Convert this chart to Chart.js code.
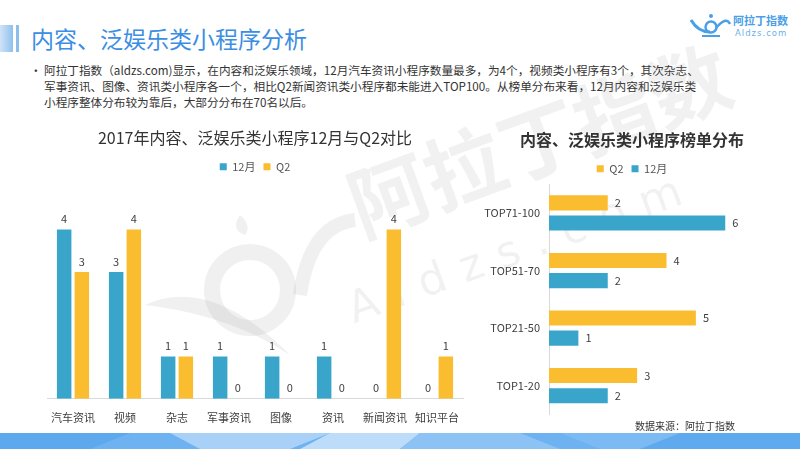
<!DOCTYPE html>
<html>
<head>
<meta charset="utf-8">
<script src="https://cdn.jsdelivr.net/npm/chart.js@4.4.1/dist/chart.umd.min.js"></script>
<style>
  html, body { margin: 0; padding: 0; background: #fff; }
  body { width: 800px; height: 449px; position: relative; overflow: hidden;
         font-family: "Noto Sans CJK SC", "Noto Sans", sans-serif; }
  .abs { position: absolute; }
  #headBar { left: 0; top: 25px; width: 13px; height: 27px;
             background: linear-gradient(90deg, #cfe3f7, #8fc1ee); }
  #headBar2 { left: 16px; top: 25px; width: 3px; height: 27px; background: #8fbde9; }
  #title { left: 31px; top: 21px; font-size: 23px; color: #3b8ee3; line-height: 34px; white-space: nowrap; }
  #desc { left: 30px; top: 62px; font-size: 11.65px; color: #333; line-height: 16px; white-space: nowrap; }
  #desc .dot { position: absolute; left: 0; top: 0; }
  #desc .txt { position: absolute; left: 14px; top: 0; }
  #source { left: 635px; top: 418px; font-size: 10px; color: #333; white-space: nowrap; }
  #logoTxt { left: 733px; top: 13px; font-size: 11px; font-weight: bold; color: #4aa0e6; white-space: nowrap; line-height: 14px; }
  #logoSub { left: 735px; top: 28px; font-size: 8.5px; color: #6ab0ea; letter-spacing: 1px; font-family: "DejaVu Sans", sans-serif; white-space: nowrap; }
  #wm1 { left: 330px; top: 150px; font-size: 80px; font-weight: bold; color: rgba(150,150,150,0.13);
         transform: rotate(-20deg); transform-origin: left top; white-space: nowrap; }
  #wm2 { left: 340px; top: 285px; font-size: 44px; color: rgba(150,150,150,0.13); letter-spacing: 16px;
         transform: rotate(-20deg); transform-origin: left top; white-space: nowrap; font-family: "DejaVu Sans", sans-serif; }
  #left { left: 0; top: 120px; }
  #right { left: 480px; top: 120px; }
</style>
</head>
<body>
<div id="headBar" class="abs"></div>
<div id="headBar2" class="abs"></div>
<div id="title" class="abs">内容、泛娱乐类小程序分析</div>
<div id="desc" class="abs">
  <span class="dot">•</span>
  <div class="txt">阿拉丁指数（aldzs.com)显示，在内容和泛娱乐领域，12月汽车资讯小程序数量最多，为4个，视频类小程序有3个，其次杂志、<br>军事资讯、图像、资讯类小程序各一个，相比Q2新闻资讯类小程序都未能进入TOP100。从榜单分布来看，12月内容和泛娱乐类<br>小程序整体分布较为靠后，大部分分布在70名以后。</div>
</div>

<svg class="abs" style="left:690px;top:12px" width="42" height="26" viewBox="0 0 42 26">
  <path d="M1 8 Q8 20 20 20" stroke="#4aa0e6" stroke-width="3" fill="none"/>
  <circle cx="21" cy="15" r="5.5" stroke="#4aa0e6" stroke-width="2.5" fill="none"/>
  <circle cx="21" cy="4" r="2" fill="#4aa0e6"/>
  <path d="M26 16 Q36 4 40 12" stroke="#4aa0e6" stroke-width="2.5" fill="none"/>
  <path d="M12 24 L30 24" stroke="#4aa0e6" stroke-width="2" fill="none"/>
</svg>
<div id="logoTxt" class="abs">阿拉丁指数</div>
<div id="logoSub" class="abs">Aldzs.com</div>

<svg class="abs" style="left:140px;top:195px" width="230" height="180" viewBox="0 0 230 180">
  <path d="M5 110 Q70 80 150 160 Q90 120 5 110 Z" fill="rgba(150,150,150,0.14)"/>
  <circle cx="110" cy="95" r="38" stroke="rgba(150,150,150,0.14)" stroke-width="16" fill="none"/>
  <path d="M100 20 Q90 35 105 40 Q112 30 100 20 Z" fill="rgba(150,150,150,0.14)"/>
  <path d="M160 100 Q170 30 215 25" stroke="rgba(150,150,150,0.14)" stroke-width="14" fill="none"/>
</svg>
<div id="wm1" class="abs">阿拉丁指数</div>
<div id="wm2" class="abs">Aldzs.com</div>

<canvas id="left" class="abs" width="490" height="316"></canvas>
<canvas id="right" class="abs" width="310" height="310"></canvas>

<div id="source" class="abs">数据来源：阿拉丁指数</div>

<svg class="abs" style="left:0;top:433px" width="800" height="16" viewBox="0 0 800 16" preserveAspectRatio="none">
  <rect x="0" y="0" width="800" height="16" fill="#6fb2f1"/>
  <polygon points="0,0 130,0 90,16 0,16" fill="#5ea8ee"/>
  <polygon points="170,0 330,0 290,16 200,16" fill="#a9d1f8"/>
  <polygon points="330,0 420,0 400,16 300,16" fill="#bcdcfa"/>
  <polygon points="420,0 520,0 560,16 400,16" fill="#8cc3f4"/>
  <polygon points="560,0 680,0 660,16 600,16" fill="#7bbaf3"/>
  <polygon points="680,0 800,0 800,16 640,16" fill="#5fa9ee"/>
</svg>

<script>
const barCategories = ['汽车资讯', '视频', '杂志', '军事资讯', '图像', '资讯', '新闻资讯', '知识平台'];
const decValues = [4, 3, 1, 1, 1, 1, 0, 0];
const q2Values = [3, 4, 1, 0, 0, 0, 4, 1];

const rankCategories = ['TOP71-100', 'TOP51-70', 'TOP21-50', 'TOP1-20'];
const rankQ2 = [2, 4, 5, 3];
const rankDec = [6, 2, 1, 2];

const BLUE = '#3aa5cb';
const YELLOW = '#fbbd30';
const FONT = '"Noto Sans CJK SC", "Noto Sans", sans-serif';

// draws the value next to each bar
const valueLabels = {
  id: 'valueLabels',
  afterDatasetsDraw(chart) {
    const ctx = chart.ctx;
    const horizontal = chart.options.indexAxis === 'y';
    ctx.save();
    ctx.font = '11px ' + FONT;
    ctx.fillStyle = '#404040';
    chart.data.datasets.forEach((ds, i) => {
      chart.getDatasetMeta(i).data.forEach((bar, j) => {
        if (horizontal) {
          ctx.textAlign = 'left';
          ctx.textBaseline = 'middle';
          ctx.fillText(ds.data[j], bar.x + 7, bar.y);
        } else {
          ctx.textAlign = 'center';
          ctx.textBaseline = 'bottom';
          ctx.fillText(ds.data[j], bar.x, bar.y - 5);
        }
      });
    });
    ctx.restore();
  }
};

const legendOpts = {
  display: true,
  labels: { boxWidth: 7, boxHeight: 7, padding: 8, color: '#555', font: { size: 11, family: FONT } }
};

new Chart(document.getElementById('left'), {
  type: 'bar',
  data: {
    labels: barCategories,
    datasets: [
      { label: '12月', data: decValues, backgroundColor: BLUE },
      { label: 'Q2', data: q2Values, backgroundColor: YELLOW }
    ]
  },
  options: {
    responsive: false,
    animation: false,
    events: [],
    categoryPercentage: 0.68,
    barPercentage: 0.82,
    layout: { padding: { left: 47, right: 27, top: 0, bottom: 0 } },
    plugins: {
      title: { display: true, text: '2017年内容、泛娱乐类小程序12月与Q2对比', color: '#333',
               font: { size: 16, weight: 'normal', family: FONT }, padding: { top: 8, bottom: 6 } },
      legend: legendOpts,
      tooltip: { enabled: false }
    },
    scales: {
      x: {
        grid: { display: false, drawTicks: false },
        border: { display: true, color: '#d9d9d9' },
        ticks: { color: '#404040', font: { size: 11, family: FONT }, padding: 12 }
      },
      y: { display: false, min: 0, max: 5.12 }
    }
  },
  plugins: [valueLabels]
});

new Chart(document.getElementById('right'), {
  type: 'bar',
  data: {
    labels: rankCategories,
    datasets: [
      { label: 'Q2', data: rankQ2, backgroundColor: YELLOW },
      { label: '12月', data: rankDec, backgroundColor: BLUE }
    ]
  },
  options: {
    indexAxis: 'y',
    responsive: false,
    animation: false,
    events: [],
    categoryPercentage: 0.7,
    barPercentage: 0.75,
    layout: { padding: { left: 0, right: 6, top: 0, bottom: 14 } },
    plugins: {
      title: { display: true, text: '内容、泛娱乐类小程序榜单分布', color: '#333',
               font: { size: 16, weight: 'bold', family: FONT }, padding: { top: 10, bottom: 6 } },
      legend: legendOpts,
      tooltip: { enabled: false }
    },
    scales: {
      x: { display: false, min: 0, max: 8 },
      y: {
        grid: { display: false, drawTicks: false },
        border: { display: true, color: '#d9d9d9' },
        ticks: { color: '#404040', font: { size: 11, family: FONT }, padding: 9 },
        afterFit(scale) { scale.width = 69; }
      }
    }
  },
  plugins: [valueLabels]
});
</script>
</body>
</html>
